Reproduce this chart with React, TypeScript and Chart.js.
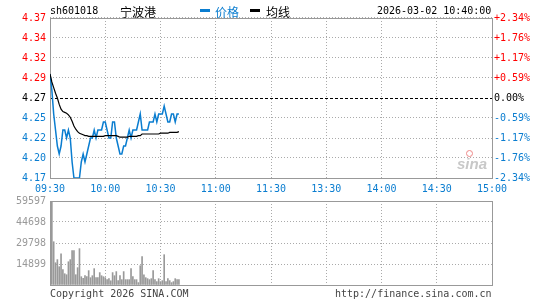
import React, { useEffect, useRef } from "react";
import { Chart, registerables } from "chart.js";
Chart.register(...registerables);

const prevClose = 4.27;
const priceHalfRange = 0.1;
const timeLabels = ["09:30", "10:00", "10:30", "11:00", "11:30", "13:30", "14:00", "14:30", "15:00"];
// bottom -> top
const priceTickLabels = ["4.17", "4.20", "4.22", "4.25", "4.27", "4.29", "4.32", "4.34", "4.37"];
const pctTickLabels = ["-2.34%", "-1.76%", "-1.17%", "-0.59%", "0.00%", "+0.59%", "+1.17%", "+1.76%", "+2.34%"];
const volTickValues = [0, 14899, 29798, 44698, 59597];
const volTickLabels = ["", "14899", "29798", "44698", "59597"];

const price = [
  4.30, 4.28, 4.25, 4.23, 4.21, 4.20, 4.21, 4.23, 4.23, 4.22,
  4.23, 4.22, 4.19, 4.17, 4.17, 4.17, 4.17, 4.19, 4.20, 4.19,
  4.20, 4.21, 4.22, 4.22, 4.23, 4.22, 4.23, 4.23, 4.23, 4.24,
  4.24, 4.23, 4.22, 4.22, 4.24, 4.24, 4.22, 4.21, 4.20, 4.20,
  4.21, 4.21, 4.22, 4.23, 4.22, 4.23, 4.23, 4.23, 4.24, 4.25,
  4.23, 4.23, 4.23, 4.23, 4.24, 4.24, 4.24, 4.25, 4.24, 4.25,
  4.25, 4.25, 4.26, 4.25, 4.24, 4.24, 4.25, 4.25, 4.24, 4.25,
  4.25,
];

const avgPrice = [
  4.300, 4.290, 4.283, 4.276, 4.270, 4.262, 4.256, 4.253, 4.252, 4.251,
  4.249, 4.246, 4.241, 4.235, 4.231, 4.228, 4.226, 4.225, 4.224, 4.223,
  4.223, 4.222, 4.222, 4.222, 4.222, 4.222, 4.222, 4.222, 4.222, 4.222,
  4.223, 4.223, 4.223, 4.223, 4.223, 4.223, 4.223, 4.222, 4.221, 4.221,
  4.221, 4.221, 4.221, 4.222, 4.222, 4.222, 4.222, 4.222, 4.223, 4.223,
  4.225, 4.225, 4.225, 4.225, 4.225, 4.225, 4.225, 4.225, 4.225, 4.225,
  4.226, 4.226, 4.226, 4.226, 4.226, 4.227, 4.227, 4.227, 4.227, 4.227,
  4.228,
];

const volume = [
  19400, 59597, 30700, 15800, 18000, 13000, 22200, 10900, 8000, 7300,
  16500, 18000, 24400, 24400, 7300, 12300, 25800, 5900, 4700, 6600,
  5900, 10200, 5200, 6600, 11600, 5200, 5200, 8800, 6600, 5900,
  5200, 3800, 4500, 3000, 8800, 6600, 9500, 3100, 6600, 3800,
  9500, 3800, 3800, 3800, 11600, 5900, 3800, 3800, 1700, 13700,
  20100, 7300, 5200, 4500, 3800, 4500, 10200, 3800, 2400, 4500,
  2400, 3100, 21500, 2400, 4500, 3100, 1700, 2400, 4500, 3800,
  3800,
];

const BLUE = "#0a7dd0";
const RED = "#ff0000";
const GRID = "#aaaaaa";
const FRAME = "#999999";
const FONT = "'DejaVu Sans Mono', monospace";
const CJK = "'Noto Sans CJK SC', sans-serif";

const framePlugin = {
  id: "frame",
  beforeDatasetsDraw(chart: any) {
    const { ctx, chartArea: a } = chart;
    ctx.save();
    ctx.strokeStyle = FRAME;
    ctx.lineWidth = 1;
    ctx.setLineDash([]);
    ctx.strokeRect(Math.round(a.left) + 0.5, Math.round(a.top) + 0.5, Math.round(a.right - a.left), Math.round(a.bottom - a.top));
    ctx.restore();
  },
};

const priceTickColor = (i: number) => (i < 4 ? BLUE : i === 4 ? "#000" : RED);

export default function App() {
  const topRef = useRef<HTMLCanvasElement>(null);
  const botRef = useRef<HTMLCanvasElement>(null);

  useEffect(() => {
    const priceTicks = () =>
      priceTickLabels.map((_, k) => ({ value: prevClose - priceHalfRange + (k * priceHalfRange) / 4 }));
    const font = { family: FONT, size: 10 };

    const top = new Chart(topRef.current as HTMLCanvasElement, {
      type: "line",
      data: {
        datasets: [
          {
            label: "均线",
            data: avgPrice.map((y, i) => ({ x: i, y })),
            borderColor: "#000",
            borderWidth: 1.2,
            pointRadius: 0,
            tension: 0,
          },
          {
            label: "价格",
            data: price.map((y, i) => ({ x: i, y })),
            borderColor: BLUE,
            borderWidth: 1.5,
            pointRadius: 0,
            tension: 0,
          },
        ],
      },
      options: {
        animation: false,
        responsive: false,
        events: [],
        layout: { padding: { top: 18, left: 0, right: 0, bottom: 0 } },
        plugins: { legend: { display: false }, tooltip: { enabled: false } },
        scales: {
          x: {
            type: "linear",
            min: 0,
            max: 240,
            afterBuildTicks: (s: any) => {
              s.ticks = timeLabels.map((_, k) => ({ value: k * 30 }));
            },
            afterFit: (s: any) => {
              s.height = 22;
            },
            grid: { color: GRID, drawTicks: false },
            border: { display: false, dash: [1, 2] },
            ticks: {
              autoSkip: false,
              maxRotation: 0,
              padding: 5,
              color: BLUE,
              font,
              callback: (_v: any, i: number) => timeLabels[i],
            },
          },
          y: {
            position: "left",
            min: prevClose - priceHalfRange,
            max: prevClose + priceHalfRange,
            afterBuildTicks: (s: any) => {
              s.ticks = priceTicks();
            },
            afterFit: (s: any) => {
              s.width = 50;
            },
            grid: {
              drawTicks: false,
              color: (ctx: any) => (ctx.index === 4 ? "#000" : GRID),
            },
            border: { display: false, dash: (ctx: any) => (ctx.index === 4 ? [3, 2] : [1, 2]) },
            ticks: {
              padding: 4,
              font,
              color: (ctx: any) => priceTickColor(ctx.index),
              callback: (_v: any, i: number) => priceTickLabels[i],
            },
          },
          y2: {
            position: "right",
            min: prevClose - priceHalfRange,
            max: prevClose + priceHalfRange,
            afterBuildTicks: (s: any) => {
              s.ticks = priceTicks();
            },
            afterFit: (s: any) => {
              s.width = 53;
            },
            grid: { display: false, drawTicks: false },
            border: { display: false },
            ticks: {
              padding: 2,
              font,
              color: (ctx: any) => priceTickColor(ctx.index),
              callback: (_v: any, i: number) => pctTickLabels[i],
            },
          },
        },
      } as any,
      plugins: [framePlugin],
    });

    const bot = new Chart(botRef.current as HTMLCanvasElement, {
      type: "bar",
      data: {
        datasets: [
          {
            label: "成交量",
            data: volume.map((y, i) => ({ x: i, y })),
            backgroundColor: "#999999",
            barThickness: 1,
            borderWidth: 0,
          },
        ],
      },
      options: {
        animation: false,
        responsive: false,
        events: [],
        layout: { padding: { top: 11, left: 0, right: 53, bottom: 0 } },
        plugins: { legend: { display: false }, tooltip: { enabled: false } },
        scales: {
          x: {
            type: "linear",
            min: 0,
            max: 240,
            offset: false,
            afterBuildTicks: (s: any) => {
              s.ticks = timeLabels.map((_, k) => ({ value: k * 30 }));
            },
            afterFit: (s: any) => {
              s.height = 15;
            },
            grid: { color: GRID, drawTicks: false, offset: false },
            border: { display: false, dash: [1, 2] },
            ticks: { display: false },
          },
          y: {
            position: "left",
            min: 0,
            max: volTickValues[volTickValues.length - 1],
            afterBuildTicks: (s: any) => {
              s.ticks = volTickValues.map((v) => ({ value: v }));
            },
            afterFit: (s: any) => {
              s.width = 50;
            },
            grid: { color: GRID, drawTicks: false },
            border: { display: false, dash: [1, 2] },
            ticks: {
              padding: 4,
              font,
              color: "#999999",
              callback: (_v: any, i: number) => volTickLabels[i],
            },
          },
        },
      } as any,
      plugins: [framePlugin],
    });

    return () => {
      top.destroy();
      bot.destroy();
    };
  }, []);

  const mono: React.CSSProperties = {
    position: "absolute",
    fontFamily: FONT,
    fontSize: 10,
    lineHeight: "12px",
    whiteSpace: "nowrap",
  };
  const cjk: React.CSSProperties = {
    position: "absolute",
    fontFamily: CJK,
    fontSize: 12,
    lineHeight: "14px",
    whiteSpace: "nowrap",
  };

  return (
    <div
      style={{
        position: "fixed",
        left: 0,
        top: 0,
        width: 545,
        height: 300,
        background: "#fff",
        overflow: "hidden",
      }}
    >
      <canvas ref={topRef} width={545} height={200} style={{ position: "absolute", left: 0, top: 0 }} />
      <canvas ref={botRef} width={545} height={110} style={{ position: "absolute", left: 0, top: 190 }} />

      <div style={{ ...mono, left: 50, top: 5, color: "#000" }}>sh601018</div>
      <div style={{ ...cjk, left: 120, top: 5, color: "#000" }}>宁波港</div>
      <div style={{ position: "absolute", left: 200, top: 9, width: 10, height: 3, background: BLUE }} />
      <div style={{ ...cjk, left: 215, top: 5, color: BLUE }}>价格</div>
      <div style={{ position: "absolute", left: 250, top: 9, width: 10, height: 3, background: "#000" }} />
      <div style={{ ...cjk, left: 266, top: 5, color: "#000" }}>均线</div>
      <div style={{ ...mono, left: 377, top: 5, color: "#000" }}>2026-03-02 10:40:00</div>

      <div
        style={{
          position: "absolute",
          left: 457,
          top: 155,
          fontFamily: "'Liberation Sans', Arial, sans-serif",
          fontStyle: "italic",
          fontWeight: "bold",
          fontSize: 15,
          lineHeight: "18px",
          color: "#c8c8c8",
        }}
      >
        sina
      </div>
      <div
        style={{
          position: "absolute",
          left: 466,
          top: 150,
          width: 7,
          height: 7,
          borderRadius: 4,
          border: "1.5px solid #e88",
          boxSizing: "border-box",
        }}
      />

      <div style={{ ...mono, left: 50, top: 288, color: "#444" }}>Copyright 2026 SINA.COM</div>
      <div style={{ ...mono, left: 335, top: 288, color: "#444" }}>http://finance.sina.com.cn</div>
    </div>
  );
}
